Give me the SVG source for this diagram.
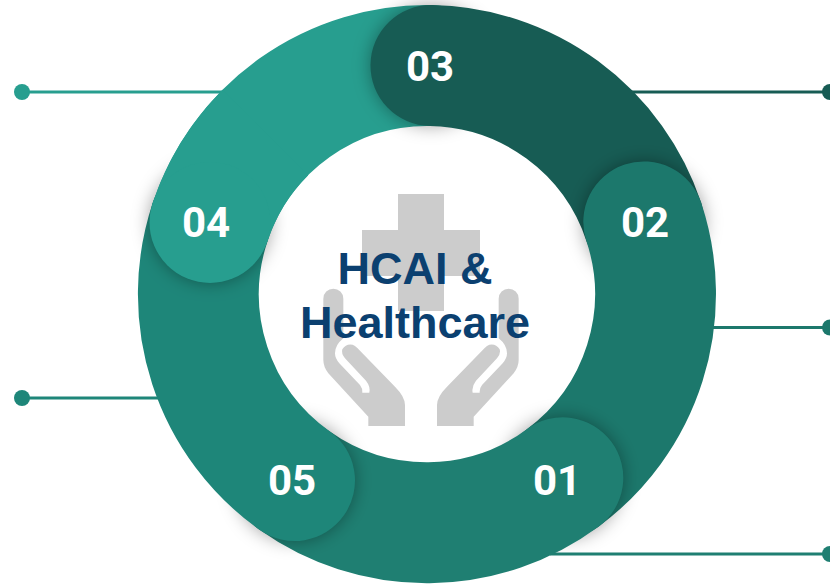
<svg xmlns="http://www.w3.org/2000/svg" width="830" height="584" viewBox="0 0 830 584">
<defs>
<filter id="soft" x="-50%" y="-50%" width="200%" height="200%"><feGaussianBlur stdDeviation="9"/></filter>
<g id="hand"><path fill="#cccccc" d="M130 386A30 30 0 0 1 190 386L190 505Q165 525 165 550Q165 565 178 580L240 645Q248 655 247 668L268 668Q272 650 258 632L195 565Q183 550 187 538Q198 520 218 524Q225 526 232 534L345 650Q375 680 375 705L375 768L265 768L265 740L145 610Q130 590 130 570Z"/></g>
</defs>
<style>
.arc{fill:none;stroke-width:121;stroke-linecap:round}
.shadow{fill:#000;fill-opacity:.38;filter:url(#soft)}
.num{font-family:Roboto,"Liberation Sans",sans-serif;font-weight:700;font-size:42px;fill:#fff;text-anchor:middle}
.title{font-family:"Liberation Sans",Arial,sans-serif;font-weight:700;font-size:45px;fill:#0b4070;text-anchor:middle}
.lk{stroke-width:3;fill:none}
</style>
<rect width="830" height="584" fill="#fff"/>
<g id="connectors">
<g><path class="lk" stroke="#279e8f" d="M22 92H225"/><circle cx="22" cy="92" r="8" fill="#279e8f"/></g>
<g><path class="lk" stroke="#1e8679" d="M22 398H165"/><circle cx="22" cy="398" r="8" fill="#1e8679"/></g>
<g><path class="lk" stroke="#175c54" d="M630 92H830"/><circle cx="830" cy="92" r="8" fill="#175c54"/></g>
<g><path class="lk" stroke="#1c786c" d="M710 327.5H830"/><circle cx="830" cy="327.5" r="8" fill="#1c786c"/></g>
<g><path class="lk" stroke="#1f7f72" d="M550 554H830"/><circle cx="830" cy="554" r="8" fill="#1f7f72"/></g>
</g>
<g id="node-04-body"><path class="arc" stroke="#279e8f" d="M210 222.4A228.5 228.5 0 0 1 431 65.5"/></g>
<g id="node-03"><circle class="shadow" cx="431" cy="65.5" r="60"/><path class="arc" stroke="#175c54" d="M431 65.5A228.5 228.5 0 0 1 643.8 221.9"/><text class="num" x="430" y="81">03</text></g>
<g id="node-02"><circle class="shadow" cx="643.8" cy="221.9" r="60"/><path class="arc" stroke="#1c786c" d="M643.8 221.9A228.5 228.5 0 0 1 562.8 477.8"/><text class="num" x="645" y="237">02</text></g>
<g id="node-01"><circle class="shadow" cx="562.8" cy="477.8" r="60"/><path class="arc" stroke="#1f7f72" d="M562.8 477.8A228.5 228.5 0 0 1 294.5 480.5"/><text class="num" x="557" y="495">01</text></g>
<g id="node-05"><circle class="shadow" cx="294.5" cy="480.5" r="60"/><path class="arc" stroke="#1e8679" d="M294.5 480.5A228.5 228.5 0 0 1 210 222.4"/><text class="num" x="292" y="495">05</text></g>
<g id="node-04"><circle class="shadow" cx="210" cy="222.4" r="60"/><path fill="none" stroke="#279e8f" stroke-width="121" d="M210 222.4A228.5 228.5 0 0 1 265.4 132.4"/><circle cx="210" cy="222.4" r="60.5" fill="#279e8f"/><text class="num" x="206" y="237">04</text></g>
<g id="center">
<path fill="#cccccc" d="M398 194H444V230H480V276H444V311H398V276H362V230H398Z"/>
<g transform="translate(280 170) scale(.3333)"><use href="#hand"/></g>
<g transform="translate(562 170) scale(-.3333 .3333)"><use href="#hand"/></g>
<text class="title" x="415" y="284">HCAI &amp;</text>
<text class="title" x="415" y="338">Healthcare</text>
</g>
</svg>
